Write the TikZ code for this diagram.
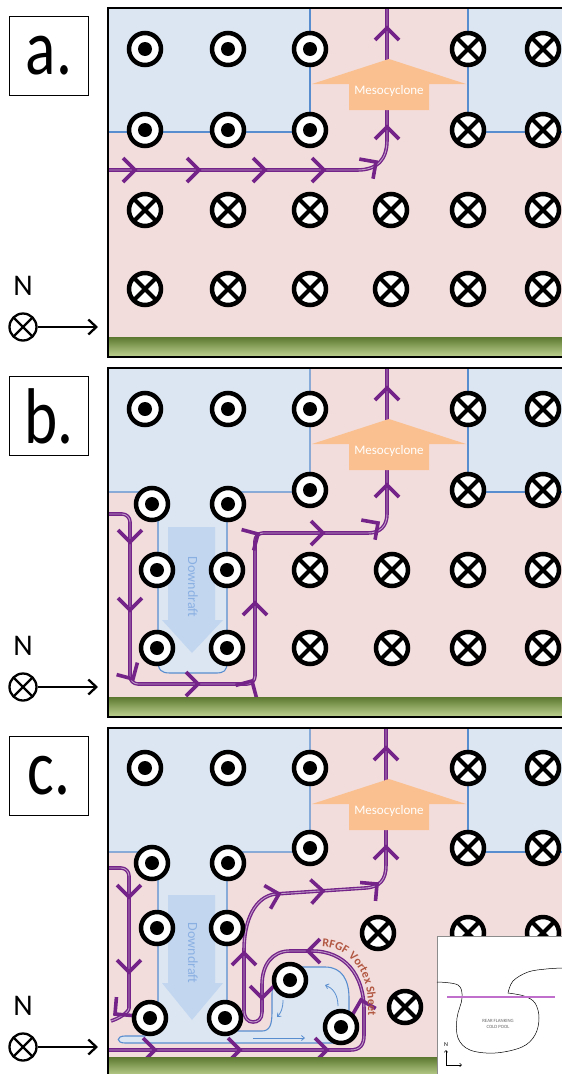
\documentclass[tikz,border=0pt]{standalone}
\usepackage{fontspec}
\setmainfont{Carlito}
\usetikzlibrary{arrows.meta,decorations.text}

\definecolor{coldblue}{RGB}{220,230,242}
\definecolor{warmpink}{RGB}{242,221,220}
\definecolor{edgeblue}{RGB}{88,142,208}
\definecolor{flowpurple}{RGB}{116,36,136}
\definecolor{mesoorange}{RGB}{250,192,143}
\definecolor{draftblue}{RGB}{194,214,240}
\definecolor{drafttext}{RGB}{138,176,226}
\definecolor{sheetred}{RGB}{178,88,66}
\definecolor{grassdark}{RGB}{92,120,48}
\definecolor{grasslight}{RGB}{192,212,146}
\definecolor{poolpink}{RGB}{192,112,204}

\tikzset{
  % vorticity out of the page / into the page
  outpage/.pic={
    \fill[white] (0,0) circle (16pt);
    \draw[line width=4.5pt] (0,0) circle (16pt);
    \fill (0,0) circle (7pt);
  },
  inpage/.pic={
    \fill[white] (0,0) circle (16pt);
    \draw[line width=4.5pt] (0,0) circle (16pt);
    \draw[line width=4pt] (-11.3pt,-11.3pt) -- (11.3pt,11.3pt) (-11.3pt,11.3pt) -- (11.3pt,-11.3pt);
  },
  % open chevron on a vortex line, tip at the origin
  chev/.pic={
    \draw[flowpurple, line width=3.6pt] (-12pt,-12pt) -- (0pt,0pt) -- (-12pt,12pt);
  },
  boundary/.style={draw=edgeblue, line width=1.1pt},
  streamline/.style={draw=flowpurple, line width=3.6pt,
    postaction={draw=flowpurple!45!white, line width=0.9pt}},
  panelbox/.style={draw, line width=1pt, minimum width=79pt, minimum height=79pt,
    inner sep=0pt, font=\fontsize{79}{79}\selectfont},
  compass/.style={circle, draw, fill=white, line width=2.3pt, minimum size=27pt, inner sep=0pt,
    path picture={\draw[line width=2.3pt]
      (path picture bounding box.north west) -- (path picture bounding box.south east)
      (path picture bounding box.north east) -- (path picture bounding box.south west);}},
  drift/.style={draw=edgeblue, line width=0.8pt, -{Straight Barb[length=3pt,width=5pt]}}
}

\begin{document}
\begin{tikzpicture}[x=1pt, y=-1pt]
\useasboundingbox (0,0) rectangle (562,1074);
\clip (0,0) rectangle (562,1074);

% warm air everywhere, cold air aloft on the right
\foreach \dy in {0,360,720}{
  \fill[warmpink] (108,8+\dy) rectangle (562,337+\dy);
  \path[fill=coldblue, boundary] (562,8+\dy) -- (468,8+\dy) -- (468,132+\dy) -- (562,132+\dy);
}

% a. cold air on the left stays aloft
\path[fill=coldblue, boundary] (108,8) -- (310,8) -- (310,132) -- (108,132) -- cycle;

% b. downdraft brings it down
\path[fill=coldblue, boundary] (108,368) -- (310,368) -- (310,492) -- (227,492) -- (227,662)
  .. controls (227,671) and (224,673) .. (216,673) -- (170,673)
  .. controls (161,673) and (158,670) .. (158,660) -- (158,492) -- (108,492) -- cycle;

% c. and it spreads out along the ground
\path[fill=coldblue, boundary] (108,728) -- (310,728) -- (310,852) -- (227,852) -- (227,1020)
  -- (238,1031) -- (262,1031) .. controls (270,1031) and (272,1024) .. (272,1012)
  -- (272,995) .. controls (272,976) and (280,967) .. (296,967) -- (325,967)
  .. controls (342,967) and (349,980) .. (349,998) -- (349,1030)
  .. controls (349,1039) and (345,1043) .. (336,1043) -- (125,1043)
  .. controls (116,1043) and (116,1036) .. (125,1036) -- (145,1036) -- (158,1018)
  -- (158,852) -- (108,852) -- cycle;
\draw[drift] (253,1038) -- (305,1038);
\draw[drift] (338,1006) .. controls (338,995) and (333,988) .. (325,985);
\draw[drift] (283,1000) .. controls (283,1008) and (281,1013) .. (277,1017);

% vortex lines
\path[streamline]
  (108,170) -- (357,170) .. controls (377,170) and (387,160) .. (387,140) -- (387,8);
\path[streamline, rounded corners=8pt]
  (108,514) -- (130,514) -- (130,684) -- (255,684) -- (255,533) -- (360,533)
  .. controls (380,533) and (387,526) .. (387,506) -- (387,368);
\path[streamline, rounded corners=8pt]
  (108,868) -- (129,868) -- (129,1000) .. controls (129,1012) and (120,1018) .. (111,1021);
\path[streamline]
  (108,1050) -- (350,1050) .. controls (360,1050) and (364,1045) .. (364,1035)
  -- (364,1010) .. controls (364,975) and (345,951) .. (312,951) -- (290,951)
  .. controls (272,951) and (262,965) .. (262,985) -- (262,1012)
  .. controls (262,1019) and (258,1022) .. (253,1022)
  .. controls (248,1022) and (244,1018) .. (244,1010) -- (244,950)
  .. controls (244,920) and (255,897) .. (275,894) -- (365,888)
  .. controls (380,887) and (386,880) .. (386,865) -- (386,728);

% direction of the vortex lines
\foreach \x/\y/\a in {135/170/0, 199/170/0, 265/170/0, 324/170/0, 376/162/35, 387/127/90, 387/28/90,
    130/542/-90, 130/610/-90, 133/679/-60, 198/684/0, 252/681/60, 255/603/90, 258/534/30,
    323/533/0, 378/523/35, 387/485/90, 387/388/90,
    129/897/-90, 129/972/-90, 115/1014/-140,
    155/1050/0, 240/1050/0, 327/1050/0, 361/1000/105, 308/951/180, 262/998/-90, 244/953/90,
    279/894/15, 323/891/3, 377/884/40, 386/847/90, 386/748/90}
  \pic[rotate=\a] at (\x,\y) {chev};

% mesocyclone updraft
\foreach \dy/\p in {0/a,360/b,720/c}{
  \fill[mesoorange] (349,110+\dy) -- (349,84+\dy) -- (312,84+\dy) -- (389,59+\dy)
    -- (466,84+\dy) -- (429,84+\dy) -- (429,110+\dy) -- cycle;
  \node[text=white, font=\fontsize{13}{14}\selectfont] (meso\p) at (389,91+\dy) {Mesocyclone};
}

% downdrafts
\fill[draftblue] (168,527) -- (215,527) -- (215,620) -- (223,620) -- (192,653) -- (162,620) -- (168,620) -- cycle;
\node[rotate=-90, text=drafttext, font=\fontsize{14}{16}\selectfont] (draftb) at (193,587) {Downdraft};
\fill[draftblue] (168,895) -- (215,895) -- (215,983) -- (223,983) -- (192,1020) -- (162,983) -- (168,983) -- cycle;
\node[rotate=-90, text=drafttext, font=\fontsize{14}{16}\selectfont] (draftc) at (193,953) {Downdraft};

% vorticity symbols
\foreach \x/\y in {145/49,228/49,310/49,145/130,228/130,310/130,
    145/409,228/409,310/409,310/490,152/504,228/504,157/570,227/570,157/648,227/648,
    145/768,228/768,310/768,310/848,152/863,228/863,157/928,227/928,150/1018,225/1018,
    290/980,341/1027}
  \pic at (\x,\y) {outpage};
\foreach \x/\y in {468/49,543/49,468/130,543/130,
    145/210,228/210,310/210,391/210,468/210,543/210,
    145/289,228/289,310/289,391/289,468/289,543/289,
    468/409,543/409,468/490,543/490,310/570,392/570,468/570,543/570,
    310/648,392/648,468/648,543/648,
    468/768,543/768,468/848,543/848,378/933,468/933,543/933,405/1007}
  \pic at (\x,\y) {inpage};

% ground, frames, panel tags, orientation
\foreach \dy/\p in {0/a,360/b,720/c}{
  \shade[top color=grassdark, bottom color=grasslight] (108,337+\dy) rectangle (562,357+\dy);
  \draw[line width=1.2pt] (562,8+\dy) -- (108,8+\dy) -- (108,357+\dy) -- (562,357+\dy);
  \node[panelbox] (lab\p) at (49,56+\dy) {\scalebox{0.8}[1]{\p.}};
  \node[font=\fontsize{30}{30}\selectfont] (north\p) at (23,286+\dy) {N};
  \node[compass] (comp\p) at (23,327+\dy) {};
  \coordinate (tip\p) at (98,327+\dy);
  \draw[line width=2.3pt, -{Straight Barb[length=8pt,width=15pt]}] (comp\p) -- (tip\p);
}

% rear flank gust front vortex sheet
\path[decorate, decoration={text along path, text color=sheetred, text align=left,
  text={|\bfseries\fontsize{12}{12}\selectfont|RFGF Vortex Sheet}}]
  (322,947) .. controls (350,948) and (368,972) .. (368,1005) -- (368,1060);

% plan view inset
\fill[white] (437,936) rectangle (562,1074);
\draw[black!45, line width=0.6pt] (437,1074) -- (437,936) -- (562,936);
\draw[line width=0.5pt] plot[smooth, tension=0.6] coordinates {(437,982) (458,985) (462,998)
  (457,1018) (458,1038) (470,1050) (495,1053) (522,1047) (535,1035) (539,1018) (535,1003)
  (524,996) (508,993)};
\draw[line width=0.5pt] plot[smooth, tension=0.6] coordinates {(508,993) (513,981) (528,972)
  (546,969) (562,968)};
\draw[poolpink, line width=2.6pt] (447,997) -- (555,997);
\node[text=black!60, font=\fontsize{4.8}{5.7}\selectfont, align=center] (pool) at (498,1024) {REAR FLANKING\\COLD POOL};
\node[font=\fontsize{6}{6}\selectfont, inner sep=0pt] (insetn) at (446,1045) {N};
\coordinate (inseto) at (446,1065);
\coordinate (insetup) at (446,1050);
\coordinate (insetright) at (462,1065);
\draw[line width=0.5pt, -{Straight Barb[length=2pt,width=3.5pt]}] (inseto) -- (insetup);
\draw[line width=0.5pt, -{Straight Barb[length=2pt,width=3.5pt]}] (inseto) -- (insetright);
\end{tikzpicture}
\end{document}
